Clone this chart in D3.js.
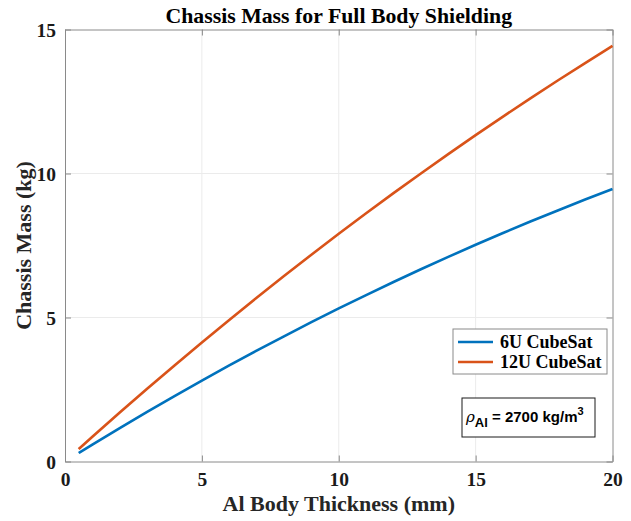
<!DOCTYPE html>
<html>
<head>
<meta charset="utf-8">
<script src="https://cdn.jsdelivr.net/npm/d3@7"></script>
<style>
  html, body { margin: 0; padding: 0; background: #fff; }
  svg { display: block; }
</style>
</head>
<body>
<svg id="chart" width="631" height="521"></svg>
<script>
// Wall thickness of the aluminium body (mm)
const thickness = [0.5, 1, 2, 3, 4, 5, 6, 7, 8, 9, 10, 11, 12, 13, 14, 15, 16, 17, 18, 19, 20];
// Chassis mass (kg) for each CubeSat size
const mass6U  = [0.295, 0.588, 1.162, 1.724, 2.274, 2.811, 3.335, 3.848, 4.348, 4.837, 5.314, 5.779, 6.232, 6.674, 7.105, 7.525, 7.934, 8.331, 8.718, 9.095, 9.461];
const mass12U = [0.430, 0.857, 1.698, 2.525, 3.336, 4.134, 4.917, 5.685, 6.439, 7.179, 7.906, 8.618, 9.317, 10.002, 10.674, 11.332, 11.977, 12.609, 13.229, 13.835, 14.429];
const seriesNames = ["6U CubeSat", "12U CubeSat"];
const seriesColors = ["#0072BD", "#D95319"];
const xTicks = [0, 5, 10, 15, 20];
const yTicks = [0, 5, 10, 15];

const svg = d3.select("#chart");
const serif = "'Liberation Serif', 'Times New Roman', serif";
const sans = "'Liberation Sans', Arial, sans-serif";

const W = 631, H = 521;
const margin = { left: 65, right: W - 612.5, top: 29.5, bottom: H - 461.5 };
const x = d3.scaleLinear().domain([0, 20]).range([margin.left, W - margin.right]);
const y = d3.scaleLinear().domain([0, 15]).range([H - margin.bottom, margin.top]);

// grid
const grid = svg.append("g").attr("stroke", "#ebebeb").attr("stroke-width", 1);
xTicks.slice(1, -1).forEach(t => {
  grid.append("line").attr("x1", x(t)).attr("x2", x(t)).attr("y1", y(0)).attr("y2", y(15));
});
yTicks.slice(1, -1).forEach(t => {
  grid.append("line").attr("x1", x(0)).attr("x2", x(20)).attr("y1", y(t)).attr("y2", y(t));
});

// axes box with inward ticks
const axisColor = "#8a8a8a";
const xAxis = svg.append("g").attr("transform", `translate(0,${y(0)})`)
  .call(d3.axisBottom(x).tickValues(xTicks).tickSizeInner(-6).tickSizeOuter(0).tickPadding(10));
const yAxis = svg.append("g").attr("transform", `translate(${x(0)},0)`)
  .call(d3.axisLeft(y).tickValues(yTicks).tickSizeInner(-6).tickSizeOuter(0).tickPadding(9));
svg.append("g").attr("transform", `translate(0,${y(15)})`)
  .call(d3.axisTop(x).tickValues(xTicks).tickSizeInner(-6).tickSizeOuter(0).tickFormat(""));
svg.append("g").attr("transform", `translate(${x(20)},0)`)
  .call(d3.axisRight(y).tickValues(yTicks).tickSizeInner(-6).tickSizeOuter(0).tickFormat(""));
svg.selectAll(".domain, .tick line").attr("stroke", axisColor);
svg.selectAll(".tick text")
  .attr("font-family", serif).attr("font-weight", "bold").attr("font-size", 19.5).attr("fill", "#1a1a1a");
xAxis.selectAll(".tick text").attr("dy", "0.75em");
yAxis.selectAll(".tick text").attr("dy", "0.35em");

// curves
const line = d3.line().x(d => x(d[0])).y(d => y(d[1])).curve(d3.curveMonotoneX);
[mass6U, mass12U].forEach((vals, i) => {
  svg.append("path")
    .datum(thickness.map((t, j) => [t, vals[j]]))
    .attr("fill", "none")
    .attr("stroke", seriesColors[i])
    .attr("stroke-width", 2.6)
    .attr("d", line);
});

// title and axis labels
svg.append("text").attr("x", (x(0) + x(20)) / 2).attr("y", 23)
  .attr("text-anchor", "middle").attr("font-family", serif).attr("font-weight", "bold")
  .attr("font-size", 21.8).attr("fill", "#000").text("Chassis Mass for Full Body Shielding");
svg.append("text").attr("x", (x(0) + x(20)) / 2).attr("y", 511)
  .attr("text-anchor", "middle").attr("font-family", serif).attr("font-weight", "bold")
  .attr("font-size", 22).attr("fill", "#262626").text("Al Body Thickness (mm)");
svg.append("text").attr("transform", `translate(31,${(y(0) + y(15)) / 2}) rotate(-90)`)
  .attr("text-anchor", "middle").attr("font-family", serif).attr("font-weight", "bold")
  .attr("font-size", 22).attr("fill", "#262626").text("Chassis Mass (kg)");

// legend
const lg = svg.append("g").attr("transform", "translate(453,329)");
lg.append("rect").attr("width", 154).attr("height", 45)
  .attr("fill", "#fff").attr("stroke", "#8a8a8a").attr("stroke-width", 1);
seriesNames.forEach((name, i) => {
  const cy = 13 + i * 20;
  lg.append("line").attr("x1", 5).attr("x2", 40).attr("y1", cy).attr("y2", cy)
    .attr("stroke", seriesColors[i]).attr("stroke-width", 2.6);
  lg.append("text").attr("x", 47).attr("y", cy).attr("dy", "0.35em")
    .attr("font-family", serif).attr("font-weight", "bold").attr("font-size", 18)
    .attr("fill", "#000").text(name);
});

// density annotation
const ann = svg.append("g").attr("transform", "translate(462,398)");
ann.append("rect").attr("width", 133).attr("height", 39)
  .attr("fill", "#fff").attr("stroke", "#1a1a1a").attr("stroke-width", 1);
const t = ann.append("text").attr("x", 4).attr("y", 24)
  .attr("font-family", sans).attr("font-size", 15).attr("font-weight", "bold").attr("fill", "#000");
t.append("tspan").attr("font-style", "italic").attr("font-weight", "normal").attr("font-family", "'DejaVu Serif', serif").text("ρ");
t.append("tspan").attr("dy", 5).attr("font-size", 13).text("Al");
t.append("tspan").attr("dy", -5).text(" = 2700 kg/m");
t.append("tspan").attr("dy", -7).attr("font-size", 11).text("3");
</script>
</body>
</html>
